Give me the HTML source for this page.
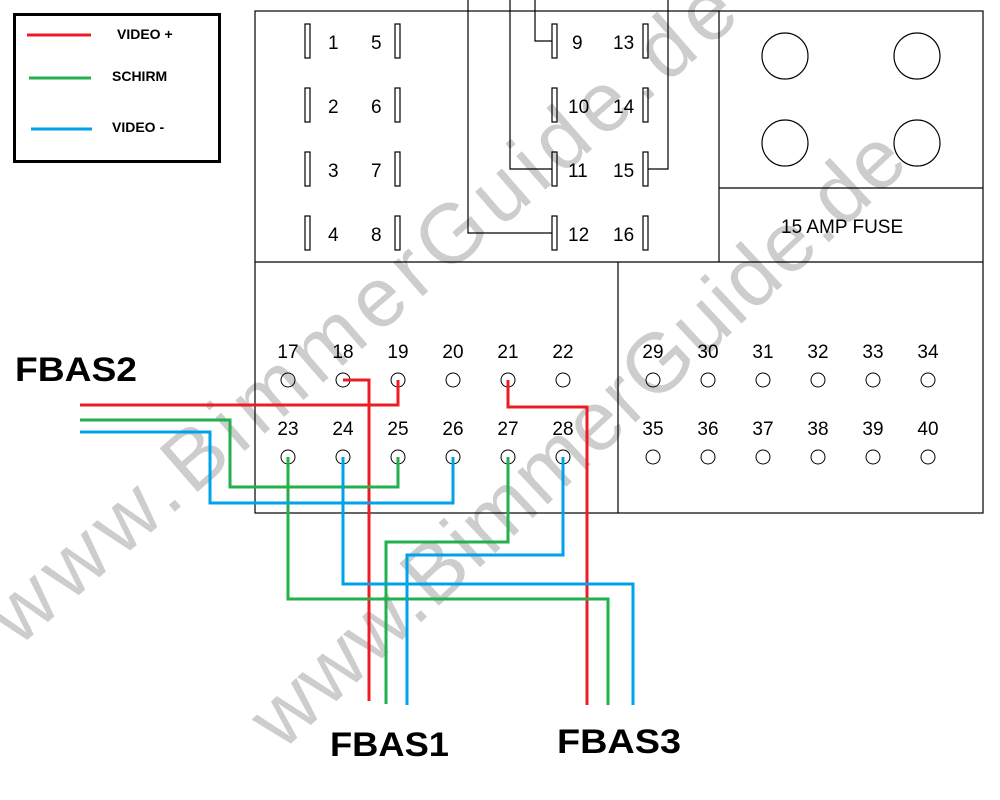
<!DOCTYPE html>
<html><head><meta charset="utf-8"><style>html,body{margin:0;padding:0;background:#fff}svg{display:block}</style></head>
<body>
<svg width="1000" height="800" xmlns="http://www.w3.org/2000/svg" font-family="Liberation Sans, sans-serif">
<rect width="1000" height="800" fill="#fff"/>
<!-- watermark -->
<g fill="#cdcdcd" font-size="84">
<text x="18" y="648" transform="rotate(-41 18 648)" textLength="960">www.BimmerGuide.de</text>
<text x="282" y="752" transform="rotate(-43 282 752)" textLength="860">www.BimmerGuide.de</text>
</g>
<!-- legend -->
<rect x="14.5" y="14.5" width="205" height="147" fill="none" stroke="#000" stroke-width="3"/>
<g stroke-width="3"><line x1="27" y1="35" x2="91" y2="35" stroke="#ed1c24"/><line x1="29" y1="78" x2="91" y2="78" stroke="#22b14c"/><line x1="31" y1="129" x2="92" y2="129" stroke="#00a2e8"/></g>
<g font-weight="bold" font-size="14"><text x="117" y="39">VIDEO +</text><text x="112" y="81">SCHIRM</text><text x="112" y="132">VIDEO -</text></g>
<!-- boxes -->
<g fill="none" stroke="#000" stroke-width="1.2">
<rect x="255" y="11" width="728" height="502"/>
<line x1="255" y1="262" x2="983" y2="262"/>
<line x1="719" y1="11" x2="719" y2="262"/>
<line x1="719" y1="188" x2="983" y2="188"/>
<line x1="618" y1="262" x2="618" y2="513"/>
<circle cx="785" cy="56" r="23"/><circle cx="917" cy="56" r="23"/><circle cx="785" cy="143" r="23"/><circle cx="917" cy="143" r="23"/>
<rect x="305" y="24" width="5" height="34"/><rect x="395" y="24" width="5" height="34"/><rect x="552" y="24" width="5" height="34"/><rect x="643" y="24" width="5" height="34"/>
<rect x="305" y="88" width="5" height="34"/><rect x="395" y="88" width="5" height="34"/><rect x="552" y="88" width="5" height="34"/><rect x="643" y="88" width="5" height="34"/>
<rect x="305" y="152" width="5" height="34"/><rect x="395" y="152" width="5" height="34"/><rect x="552" y="152" width="5" height="34"/><rect x="643" y="152" width="5" height="34"/>
<rect x="305" y="216" width="5" height="34"/><rect x="395" y="216" width="5" height="34"/><rect x="552" y="216" width="5" height="34"/><rect x="643" y="216" width="5" height="34"/>
<polyline points="468,0 468,233 552,233"/>
<polyline points="510,0 510,169 552,169"/>
<polyline points="535,0 535,41 552,41"/>
<polyline points="668,0 668,169 648,169"/>
<g stroke-width="1">
<circle cx="288" cy="380" r="7"/><circle cx="343" cy="380" r="7"/><circle cx="398" cy="380" r="7"/><circle cx="453" cy="380" r="7"/><circle cx="508" cy="380" r="7"/><circle cx="563" cy="380" r="7"/>
<circle cx="288" cy="457" r="7"/><circle cx="343" cy="457" r="7"/><circle cx="398" cy="457" r="7"/><circle cx="453" cy="457" r="7"/><circle cx="508" cy="457" r="7"/><circle cx="563" cy="457" r="7"/>
<circle cx="653" cy="380" r="7"/><circle cx="708" cy="380" r="7"/><circle cx="763" cy="380" r="7"/><circle cx="818" cy="380" r="7"/><circle cx="873" cy="380" r="7"/><circle cx="928" cy="380" r="7"/>
<circle cx="653" cy="457" r="7"/><circle cx="708" cy="457" r="7"/><circle cx="763" cy="457" r="7"/><circle cx="818" cy="457" r="7"/><circle cx="873" cy="457" r="7"/><circle cx="928" cy="457" r="7"/>
</g>
</g>
<!-- pin labels -->
<g font-size="19" fill="#000">
<text x="328" y="49">1</text><text x="371" y="49">5</text><text x="572" y="49">9</text><text x="613" y="49">13</text>
<text x="328" y="113">2</text><text x="371" y="113">6</text><text x="568" y="113">10</text><text x="613" y="113">14</text>
<text x="328" y="177">3</text><text x="371" y="177">7</text><text x="568" y="177">11</text><text x="613" y="177">15</text>
<text x="328" y="241">4</text><text x="371" y="241">8</text><text x="568" y="241">12</text><text x="613" y="241">16</text>
<text x="781" y="233">15 AMP FUSE</text>
<g text-anchor="middle">
<text x="288" y="358">17</text><text x="343" y="358">18</text><text x="398" y="358">19</text><text x="453" y="358">20</text><text x="508" y="358">21</text><text x="563" y="358">22</text>
<text x="288" y="435">23</text><text x="343" y="435">24</text><text x="398" y="435">25</text><text x="453" y="435">26</text><text x="508" y="435">27</text><text x="563" y="435">28</text>
<text x="653" y="358">29</text><text x="708" y="358">30</text><text x="763" y="358">31</text><text x="818" y="358">32</text><text x="873" y="358">33</text><text x="928" y="358">34</text>
<text x="653" y="435">35</text><text x="708" y="435">36</text><text x="763" y="435">37</text><text x="818" y="435">38</text><text x="873" y="435">39</text><text x="928" y="435">40</text>
</g></g>
<!-- colored wires -->
<g fill="none" stroke-width="3">
<polyline stroke="#ed1c24" points="398,380 398,405 80,405"/>
<polyline stroke="#ed1c24" points="343,380 369,380 369,701"/>
<polyline stroke="#ed1c24" points="508,380 508,407 587,407 587,705"/>
<polyline stroke="#22b14c" points="80,420 230,420 230,487 398,487 398,457"/>
<polyline stroke="#22b14c" points="288,457 288,599 608,599 608,705"/>
<polyline stroke="#22b14c" points="508,457 508,542 386,542 386,704"/>
<polyline stroke="#00a2e8" points="80,432 210,432 210,503 453,503 453,457"/>
<polyline stroke="#00a2e8" points="343,457 343,584 633,584 633,705"/>
<polyline stroke="#00a2e8" points="563,457 563,555 407,555 407,705"/>
</g>
<g font-weight="bold" font-size="34" fill="#000">
<text x="15" y="381" textLength="122" lengthAdjust="spacingAndGlyphs">FBAS2</text>
<text x="330" y="756" textLength="119" lengthAdjust="spacingAndGlyphs">FBAS1</text>
<text x="557" y="753" textLength="124" lengthAdjust="spacingAndGlyphs">FBAS3</text>
</g>
</svg>
</body></html>
